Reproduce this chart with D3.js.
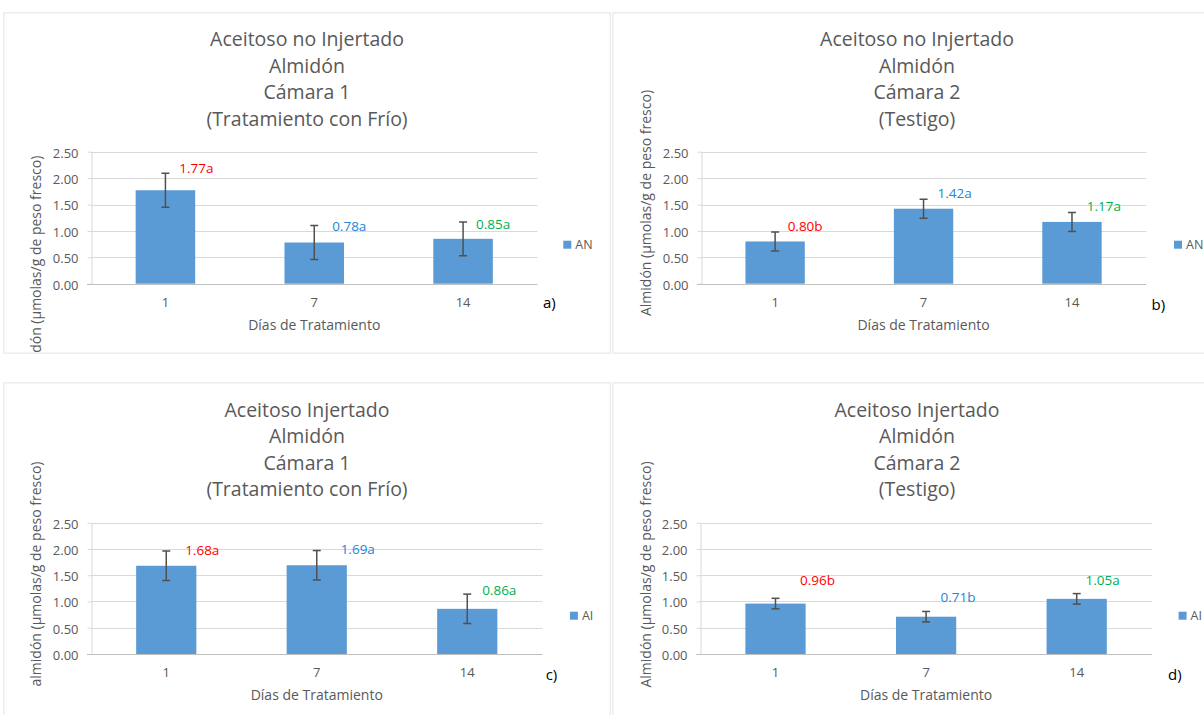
<!DOCTYPE html>
<html>
<head>
<meta charset="utf-8">
<script src="https://cdn.jsdelivr.net/npm/d3@7"></script>
<style>
  html, body { margin: 0; padding: 0; background: #ffffff; }
  svg { display: block; font-family: "Open Sans", "Noto Sans", sans-serif; }
</style>
</head>
<body>
<svg id="chart" width="1204" height="715"></svg>
<script>
// Treatment days (categories) and y-axis ticks shared by all four panels
const days = ["1", "7", "14"];
const yTicks = [0, 0.5, 1.0, 1.5, 2.0, 2.5];

// Starch means (µmol/g fresh weight) per panel
const valuesA = [1.77, 0.78, 0.85];
const valuesB = [0.80, 1.42, 1.17];
const valuesC = [1.68, 1.69, 0.86];
const valuesD = [0.96, 0.71, 1.05];

// Error bar half-widths
const errorsA = [0.32, 0.32, 0.32];
const errorsB = [0.18, 0.18, 0.18];
const errorsC = [0.28, 0.28, 0.28];
const errorsD = [0.10, 0.10, 0.10];

// Significance letters
const lettersA = ["a", "a", "a"];
const lettersB = ["b", "a", "a"];
const lettersC = ["a", "a", "a"];
const lettersD = ["b", "b", "a"];

// Panel titles, series names, axis titles, panel tags
const titlesA = ["Aceitoso no Injertado", "Almidón", "Cámara 1", "(Tratamiento con Frío)"];
const titlesB = ["Aceitoso no Injertado", "Almidón", "Cámara 2", "(Testigo)"];
const titlesC = ["Aceitoso Injertado", "Almidón", "Cámara 1", "(Tratamiento con Frío)"];
const titlesD = ["Aceitoso Injertado", "Almidón", "Cámara 2", "(Testigo)"];
const seriesNames = ["AN", "AN", "AI", "AI"];
const yTitles = [
  "Almidón (µmolas/g de peso fresco)",
  "Almidón (µmolas/g de peso fresco)",
  "almidón (µmolas/g de peso fresco)",
  "Almidón (µmolas/g de peso fresco)"
];
const xTitle = "Días de Tratamiento";
const tags = ["a)", "b)", "c)", "d)"];

// Per-category label colours
const labelColors = ["#ff0000", "#1f84d6", "#00b050"];

const BAR = "#5b9bd5";
const GRID = "#d9d9d9";
const TEXT = "#595959";

const svg = d3.select("#chart");

// Layout of each chart frame (frame box, plot box, text anchors)
const layouts = [
  { frame: [3.5, 12.5, 607, 341], plot: [91, 537.5, 283.7, 151.7], titleX: 307, titleY: 46,
    yTitle: [36.3, 268.7], legend: [563.3, 240.7], tag: [543, 308.3],
    nudge: [[31, -0.6], [35, 5], [30, 6.8]] },
  { frame: [612.5, 12.5, 600, 341], plot: [700.9, 1146.2, 283.7, 151.7], titleX: 917, titleY: 46,
    yTitle: [646.2, 203], legend: [1174, 240.7], tag: [1151.6, 310],
    nudge: [[30, -1.3], [31, -1.2], [32, -1.4]] },
  { frame: [3.5, 382.5, 607, 400], plot: [91, 542.5, 654, 522.7], titleX: 307, titleY: 416.5,
    yTitle: [36.3, 574], legend: [569.9, 611.7], tag: [545.7, 680],
    nudge: [[36, 4.2], [41, 3.8], [32, 0.9]] },
  { frame: [612.5, 382.5, 600, 400], plot: [700.2, 1152, 654, 522.7], titleX: 917, titleY: 416.5,
    yTitle: [646.2, 574.5], legend: [1178.6, 611.7], tag: [1168, 680],
    nudge: [[42, -13.3], [32, -9.8], [26, -8.6]] }
];

const panels = [
  { values: valuesA, errors: errorsA, letters: lettersA, titles: titlesA },
  { values: valuesB, errors: errorsB, letters: lettersB, titles: titlesB },
  { values: valuesC, errors: errorsC, letters: lettersC, titles: titlesC },
  { values: valuesD, errors: errorsD, letters: lettersD, titles: titlesD }
];

panels.forEach((p, i) => {
  const L = layouts[i];
  const [fx, fy, fw, fh] = L.frame;

  const clipId = "clip" + i;
  svg.append("clipPath").attr("id", clipId)
    .append("rect").attr("x", fx).attr("y", fy).attr("width", fw).attr("height", fh);

  const g = svg.append("g").attr("clip-path", `url(#${clipId})`);

  // frame
  g.append("rect")
    .attr("x", fx).attr("y", fy).attr("width", fw).attr("height", fh)
    .attr("fill", "#ffffff").attr("stroke", GRID).attr("stroke-width", 1.5);

  const [x0, x1, y0, y1] = L.plot;
  const x = d3.scaleBand().domain(days).range([x0, x1]).paddingInner(0.6).paddingOuter(0.3);
  const y = d3.scaleLinear().domain([0, 2.5]).range([y0, y1]);

  // title
  const t = g.append("text")
    .attr("x", L.titleX).attr("y", L.titleY)
    .attr("text-anchor", "middle").attr("fill", TEXT)
    .style("font-size", "19.5px");
  p.titles.forEach((line, k) => {
    t.append("tspan").attr("x", L.titleX).attr("dy", k === 0 ? 0 : 26.5).text(line);
  });

  // gridlines
  g.append("g").selectAll("line").data(yTicks.filter(v => v > 0)).join("line")
    .attr("x1", x0).attr("x2", x1)
    .attr("y1", d => Math.round(y(d)) + 0.5).attr("y2", d => Math.round(y(d)) + 0.5)
    .attr("stroke", GRID).attr("stroke-width", 1);

  // y axis
  const yAxis = g.append("g").attr("transform", `translate(${Math.round(x0) + 0.5},0)`)
    .call(d3.axisLeft(y).tickValues(yTicks).tickFormat(d3.format(".2f"))
      .tickSizeInner(4).tickSizeOuter(0).tickPadding(9));
  yAxis.select(".domain").attr("stroke", GRID);
  yAxis.selectAll(".tick line").attr("stroke", GRID);
  yAxis.selectAll(".tick text").attr("fill", TEXT).attr("dy", "0.42em")
    .style("font-size", "13px").style("font-family", "Open Sans");

  // x axis
  const xAxis = g.append("g").attr("transform", `translate(0,${Math.round(y0) + 0.5})`)
    .call(d3.axisBottom(x).tickSize(0).tickPadding(13));
  xAxis.select(".domain").attr("stroke", "#bfbfbf").attr("d", `M${x0 - 4},0H${x1}`);
  xAxis.selectAll(".tick text").attr("fill", TEXT)
    .style("font-size", "13px").style("font-family", "Open Sans");

  // bars
  g.append("g").selectAll("rect").data(p.values).join("rect")
    .attr("x", (d, k) => x(days[k]))
    .attr("width", x.bandwidth())
    .attr("y", d => y(d))
    .attr("height", d => y(0) - y(d))
    .attr("fill", BAR);

  // error bars
  const eb = g.append("g").attr("stroke", "#505050").attr("stroke-width", 1.5);
  p.values.forEach((v, k) => {
    const cx = x(days[k]) + x.bandwidth() / 2;
    const top = y(v + p.errors[k]), bot = y(v - p.errors[k]);
    eb.append("line").attr("x1", cx).attr("x2", cx).attr("y1", top).attr("y2", bot);
    eb.append("line").attr("x1", cx - 4).attr("x2", cx + 4).attr("y1", top).attr("y2", top);
    eb.append("line").attr("x1", cx - 4).attr("x2", cx + 4).attr("y1", bot).attr("y2", bot);
  });

  // value labels with significance letters
  g.append("g").selectAll("text").data(p.values).join("text")
    .attr("x", (d, k) => x(days[k]) + x.bandwidth() / 2 + L.nudge[k][0])
    .attr("y", (d, k) => y(d + p.errors[k]) + L.nudge[k][1])
    .attr("text-anchor", "middle")
    .attr("fill", (d, k) => labelColors[k])
    .style("font-size", "13.5px")
    .text((d, k) => d3.format(".2f")(d) + p.letters[k]);

  // axis titles
  g.append("text")
    .attr("x", (x0 + x1) / 2).attr("y", y0 + 46.3)
    .attr("text-anchor", "middle").attr("fill", TEXT)
    .style("font-size", "14px").text(xTitle);

  g.append("text")
    .attr("transform", `translate(${L.yTitle[0] + 5},${L.yTitle[1]}) rotate(-90)`)
    .attr("text-anchor", "middle").attr("fill", TEXT)
    .style("font-size", "14px").text(yTitles[i]);

  // legend
  g.append("rect").attr("x", L.legend[0]).attr("y", L.legend[1])
    .attr("width", 8).attr("height", 8).attr("fill", BAR);
  g.append("text").attr("x", L.legend[0] + 12).attr("y", L.legend[1] + 8.3)
    .attr("fill", TEXT).style("font-size", "12.5px").text(seriesNames[i]);

  // panel tag
  g.append("text").attr("x", L.tag[0]).attr("y", L.tag[1])
    .attr("fill", "#000000").style("font-size", "15px").text(tags[i]);
});
</script>
</body>
</html>
